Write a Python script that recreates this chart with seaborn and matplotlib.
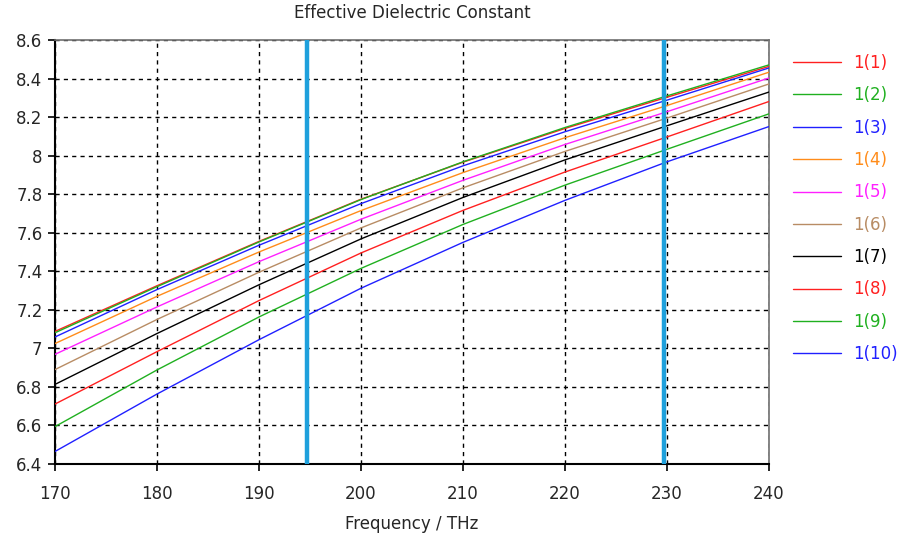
import numpy as np
import pandas as pd
import matplotlib
matplotlib.use("Agg")
import matplotlib.pyplot as plt
import seaborn as sns

# Frequency samples (THz)
freq = [170, 180, 190, 200, 210, 220, 230, 240]

# Effective dielectric constant for the ten modes
mode_1 = [7.088, 7.325, 7.555, 7.774, 7.966, 8.141, 8.303, 8.463]
mode_2 = [7.081, 7.320, 7.552, 7.772, 7.968, 8.146, 8.310, 8.471]
mode_3 = [7.059, 7.305, 7.535, 7.751, 7.947, 8.124, 8.288, 8.455]
mode_4 = [7.025, 7.270, 7.500, 7.715, 7.912, 8.093, 8.260, 8.433]
mode_5 = [6.969, 7.215, 7.450, 7.670, 7.872, 8.058, 8.228, 8.403]
mode_6 = [6.890, 7.150, 7.395, 7.625, 7.833, 8.022, 8.195, 8.372]
mode_7 = [6.813, 7.077, 7.330, 7.568, 7.783, 7.978, 8.155, 8.330]
mode_8 = [6.711, 6.983, 7.248, 7.495, 7.716, 7.915, 8.097, 8.281]
mode_9 = [6.594, 6.888, 7.163, 7.415, 7.643, 7.847, 8.033, 8.217]
mode_10 = [6.465, 6.763, 7.045, 7.312, 7.550, 7.768, 7.968, 8.151]

labels = ["1(1)", "1(2)", "1(3)", "1(4)", "1(5)",
          "1(6)", "1(7)", "1(8)", "1(9)", "1(10)"]
series = [mode_1, mode_2, mode_3, mode_4, mode_5,
          mode_6, mode_7, mode_8, mode_9, mode_10]
colors = ["#ff2020", "#20b020", "#2020ff", "#ff8c1a", "#ff20ff",
          "#b88c64", "#000000", "#ff2020", "#20b020", "#2020ff"]

# Marker frequencies (THz)
markers_x = [194.7, 229.7]

x_ticks = [170, 180, 190, 200, 210, 220, 230, 240]
y_ticks = [6.4, 6.6, 6.8, 7.0, 7.2, 7.4, 7.6, 7.8, 8.0, 8.2, 8.4, 8.6]

df = pd.DataFrame({
    "Frequency": np.tile(freq, len(labels)),
    "Value": np.concatenate(series),
    "Mode": np.repeat(labels, len(freq)),
})

sns.set_style("ticks")
plt.rcParams["font.family"] = ["DejaVu Sans"]
plt.rcParams["font.size"] = 12

fig = plt.figure(figsize=(9.09, 5.40), dpi=100)
ax = fig.add_axes([55 / 909, 1 - 464 / 540, (769 - 55) / 909, (464 - 40) / 540])

sns.lineplot(data=df, x="Frequency", y="Value", hue="Mode",
             hue_order=labels, palette=colors, linewidth=1.0,
             ax=ax, legend=False, zorder=3)

for xm in markers_x:
    ax.axvline(xm, color="#1ea0dc", linewidth=3.2, zorder=4)

ax.set_xlim(170, 240)
ax.set_ylim(6.4, 8.6)
ax.set_xticks(x_ticks)
ax.set_yticks(y_ticks)
ax.set_xticklabels([f"{v:g}" for v in x_ticks])
ax.set_yticklabels([f"{v:g}" for v in y_ticks])
ax.grid(True, color="black", linestyle=(0, (3, 3)), linewidth=1.0, zorder=1)
ax.set_axisbelow(True)

ax.tick_params(axis="both", direction="out", length=5, width=1.2,
               color="black", labelsize=12,
               bottom=True, left=True, top=False, right=False)
ax.tick_params(axis="x", pad=10)
ax.tick_params(axis="y", pad=4)

for side in ["left", "bottom"]:
    ax.spines[side].set_color("black")
    ax.spines[side].set_linewidth(1.5)
for side in ["top", "right"]:
    ax.spines[side].set_visible(True)
    ax.spines[side].set_color("#707070")
    ax.spines[side].set_linewidth(1.2)

ax.set_title("Effective Dielectric Constant", fontsize=12, pad=16)
ax.set_xlabel("Frequency / THz", fontsize=12, labelpad=9)
ax.set_ylabel("")

handles = [plt.Line2D([], [], color=c, linewidth=1.0) for c in colors]
fig.legend(handles, labels, loc="upper left",
           bbox_to_anchor=(793 / 909, 1 - 54 / 540),
           bbox_transform=fig.transFigure, frameon=False,
           fontsize=12, handlelength=2.9, handletextpad=0.7,
           labelspacing=0.86, borderpad=0, borderaxespad=0,
           labelcolor="linecolor")

fig.savefig("out.png", dpi=100)
